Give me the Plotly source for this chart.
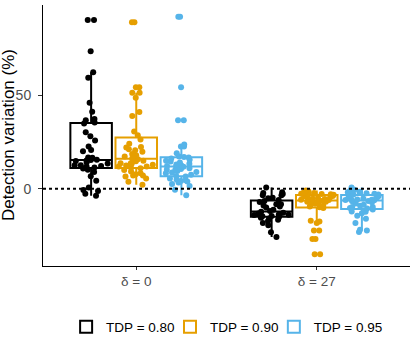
import plotly.graph_objects as go

categories = ['δ = 0', 'δ = 27']
groups = ['TDP = 0.80', 'TDP = 0.90', 'TDP = 0.95']
colors = ['#000000', '#E69F00', '#56B4E9']

# detection variation (%) per TDP level, delta = 0
tdp80_d0 = [-3.7, -2.7, -1.2, -0.7, 0.7, 4.3, 6.7, 9.0, 10.1, 10.8,
            11.4, 11.9, 12.2, 12.6, 12.6, 13.5, 14.2, 14.8, 15.1, 15.3,
            15.5, 16.5, 16.7, 20.0, 20.7, 22.5, 25.7, 28.0, 30.2, 34.8,
            35.3, 36.5, 37.2, 41.1, 45.9, 59.2, 62.1, 73.4, 90.0, 90.0]
tdp90_d0 = [2.1, 3.7, 5.5, 6.5, 7.1, 7.1, 7.8, 8.3, 9.2, 10.0, 10.9,
            11.2, 11.9, 11.9, 12.4, 12.8, 13.5, 13.6, 13.6, 14.7, 15.0, 15.8,
            16.2, 17.2, 17.9, 18.5, 19.7, 20.5, 21.1, 22.0, 22.3, 24.0, 26.3,
            28.5, 30.5, 38.8, 41.0, 48.6, 51.2, 51.2, 54.1, 54.1, 88.8, 88.8]
tdp95_d0 = [-3.5, -0.5, 1.5, 2.5, 3.4, 3.9, 4.2, 4.6, 5.0, 5.5, 6.5,
            6.8, 7.5, 8.3, 8.7, 9.0, 9.5, 10.1, 10.1, 10.5, 11.0, 11.8,
            12.0, 12.2, 12.4, 13.0, 13.3, 14.0, 14.5, 14.9, 15.5, 16.2, 16.7,
            17.0, 17.2, 19.0, 22.5, 22.5, 23.6, 36.5, 36.5, 54.1, 91.7, 91.7]

# delta = 27
tdp80_d27 = [-25.7, -23.2, -19.5, -18.3, -17.2, -16.5, -15.8, -15.5, -15.1,
             -14.7, -14.5, -14.3, -14.0, -13.8, -13.7, -13.2, -12.8, -12.3,
             -11.9, -11.2, -10.0, -9.5, -8.9, -8.3, -8.2, -7.1, -6.5,
             -6.0, -5.1, -4.8, -3.5, -3.4, -2.8, -2.3, -1.8, 0.7]
tdp90_d27 = [-34.9, -34.9, -26.8, -26.8, -22.2, -22.2, -18.3, -17.4, -17.0, -10.2,
             -9.9, -9.4, -9.0, -8.5, -8.0, -7.6, -7.0, -6.9, -6.9, -6.4,
             -6.0, -5.8, -5.6, -5.5, -5.3, -5.0, -4.5, -4.0, -3.8, -3.5,
             -3.2, -3.0, -2.9, -2.8, -2.7, -2.6, -2.2, -2.0, -1.5, -0.9]
tdp95_d27 = [-23.1, -22.3, -21.8, -18.3, -16.0, -14.4, -13.0, -12.2, -12.1, -11.0,
             -10.5, -10.3, -9.7, -9.7, -9.0, -8.5, -7.8, -7.2, -6.7, -6.5,
             -6.1, -6.0, -5.9, -5.8, -5.7, -5.2, -4.7, -4.5, -4.0, -3.5,
             -3.1, -3.0, -2.7, -2.4, -2.0, -1.8, -1.6, -1.1, -0.5, 0.7]

series = [(tdp80_d0, tdp80_d27), (tdp90_d0, tdp90_d27), (tdp95_d0, tdp95_d27)]
legend_ids = ['legend', 'legend2', 'legend3']

fig = go.Figure()
for name, color, (d0, d27), leg in zip(groups, colors, series, legend_ids):
    fig.add_trace(go.Box(
        x=[categories[0]] * len(d0) + [categories[1]] * len(d27),
        y=d0 + d27,
        name=name,
        legend=leg,
        boxpoints='all',
        jitter=0.9,
        pointpos=0,
        quartilemethod='linear',
        whiskerwidth=0,
        line=dict(color=color, width=2),
        fillcolor='rgba(255,255,255,0)',
        marker=dict(color=color, size=6),
    ))

# reference line at zero
fig.add_shape(type='line', xref='paper', yref='y', x0=0, x1=1, y0=0, y1=0,
              line=dict(color='black', width=2, dash='dot'))

# y title as a rotated annotation so it sits clear of the tick labels
fig.add_annotation(text='Detection variation (%)', xref='paper', yref='paper',
                   x=-0.094, y=0.5, xanchor='center', yanchor='middle',
                   textangle=-90, showarrow=False,
                   font=dict(size=17, color='black'))

# one legend per series, laid out in a row below the panel
leg_style = dict(orientation='h', xanchor='left', y=-0.234, yanchor='middle',
                 font=dict(size=13.5, color='black'), bgcolor='rgba(0,0,0,0)')

fig.update_layout(
    width=415, height=346,
    boxmode='group', boxgap=0.25, boxgroupgap=0.08,
    plot_bgcolor='white', paper_bgcolor='white',
    margin=dict(l=43, r=5, t=5, b=80, autoexpand=False),
    font=dict(family='Liberation Sans, Arial', size=14, color='#4d4d4d'),
    showlegend=True,
    legend=dict(x=0.063, **leg_style),
    legend2=dict(x=0.346, **leg_style),
    legend3=dict(x=0.629, **leg_style),
    xaxis=dict(showline=True, linecolor='black', linewidth=1, ticks='outside',
               ticklen=3, tickcolor='#333333', showgrid=False, zeroline=False,
               automargin=False, tickfont=dict(size=13.5, color='#4d4d4d')),
    yaxis=dict(range=[-41.2, 98], showline=True, linecolor='black', linewidth=1,
               ticks='outside', ticklen=4, tickcolor='#333333', tickvals=[0, 50],
               showgrid=False, zeroline=False, automargin=False,
               ticklabelstandoff=4,
               tickfont=dict(size=14, color='#4d4d4d')),
)

# drop the default page margin so the figure sits at the window corner
fig.write_html('out.html', config={'displayModeBar': False},
               post_script="document.body.style.margin='0px';")
